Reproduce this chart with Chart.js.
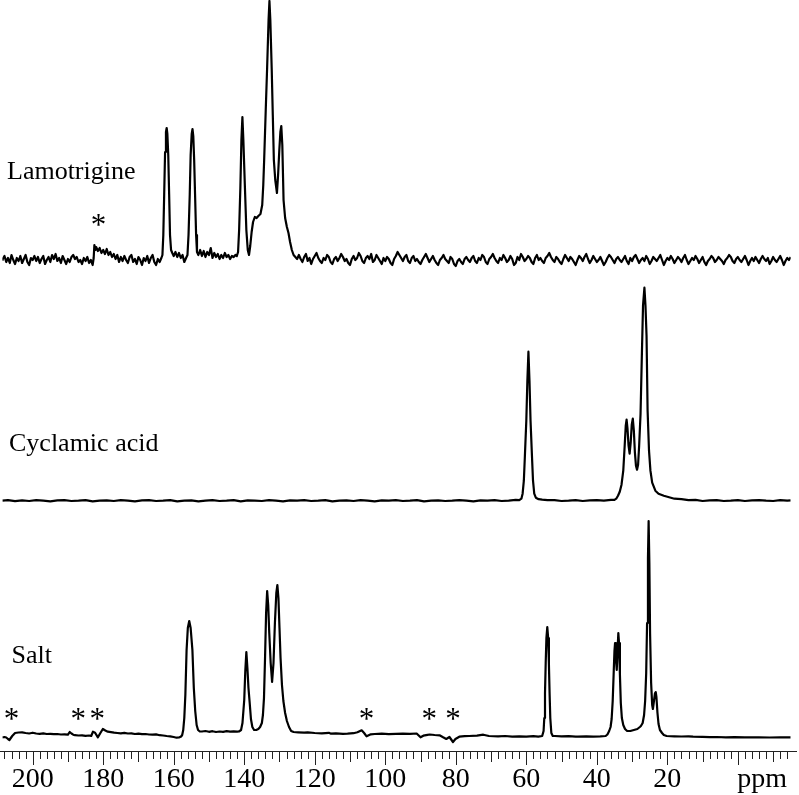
<!DOCTYPE html>
<html>
<head>
<meta charset="utf-8">
<script src="https://cdn.jsdelivr.net/npm/chart.js@4.4.1/dist/chart.umd.min.js"></script>
<style>
  html, body { margin: 0; padding: 0; background: #fff; }
</style>
</head>
<body>
<canvas id="nmr" width="799" height="795"></canvas>
<script>
// [ppm, intensity], intensity above the trace's own baseline
const lamotrigine = [
  [208.6,0],[208.5,1],[208,4],[207.5,-2],[207,2],[206.5,-3],[206,5],[205.5,0],[205,-4],[204.5,2],
  [204,-1],[203.5,4],[203,-3],[202.5,1],[202,5],[201.5,-2],[201,-5],[200.5,2],[200,0],[199.5,4],
  [199,-1],[198.5,3],[198,-3],[197.5,1],[197,4],[196.5,-4],[196,0],[195.5,3],[195,-2],[194.5,5],
  [194,1],[193.5,6],[193,-1],[192.5,2],[192,-3],[191.5,4],[191,0],[190.5,-4],[190,1],[189.5,-2],
  [189,3],[188.5,5],[188,1],[187.5,3],[187,-2],[186.5,0],[186,-4],[185.5,2],[185,-1],[184.5,3],
  [184,-3],[183.5,0],[183,-5],[182.7,2],[182.5,15],[182.2,10],[182,13],[181.5,9],[181,12],[180.5,7],
  [180,10],[179.5,6],[179,11],[178.5,5],[178,8],[177.5,3],[177,6],[176.5,1],[176,5],[175.5,-2],
  [175,3],[174.5,-1],[174,4],[173.5,0],[173,-3],[172.5,3],[172,5],[171.5,-2],[171,1],[170.5,-4],
  [170,3],[169.5,0],[169,-5],[168.5,2],[168,-1],[167.5,4],[167,-3],[166.5,2],[166,5],[165.5,-2],
  [165,-5],[164.5,1],[164,-2],
  [163.5,2],[163.2,5],[162.95,25],[162.7,66],[162.45,108],[162.2,128],[162.0,132],[161.8,126],
  [161.55,105],[161.3,66],[161.05,25],[160.75,10],[160.4,7],[160,4],[159.5,8],[159,3],
  [158.5,7],[158,2],[157.5,5],[157,-2],[156.5,2],
  [156.1,5],[155.8,25],[155.45,66],[155.2,105],[154.9,126],[154.67,131],[154.45,124],[154.2,100],
  [153.95,66],[153.65,25],[153.4,8],[153,5],[152.5,10],[152,4],[151.5,9],[151,3],[150.5,8],
  [150,5],[149.5,12],[149,2],[148.5,7],[148,3],[147.5,6],[147,1],[146.5,5],[146,2],[145.5,7],
  [145,3],[144.5,5],[144,1],[143.5,4],[143,3],[142.5,5],
  [142.1,4],[141.75,8],[141.45,30],[141.1,72],[140.8,120],[140.52,143],[140.25,120],[139.8,72],
  [139.4,30],[139.0,10],[138.65,5],[138.3,14],[137.9,28],[137.5,38],[137.0,43],[136.5,42],
  [136.0,44],[135.4,46],[134.9,55],[134.6,75],[134.35,100],[133.9,150],[133.5,193],[133.1,240],
  [132.85,259],[132.6,240],[132.2,190],[131.9,145],[131.6,100],[131.2,80],[130.72,67],[130.4,85],
  [130.05,110],[129.75,128],[129.49,134],[129.2,115],[128.85,60],[128.4,42],[127.9,33],
  [127.45,27],[127,18],[126.5,10],[126,5],[125.5,3],[125,1],
  [124.5,5],[124,1],[123.5,-2],[123,3],[122.5,6],[122,-1],[121.5,2],[121,-4],[120.5,1],[120,4],
  [119.5,7],[119,2],[118.5,-1],[118,-3],[117.5,2],[117,0],[116.5,5],[116,3],[115.5,-2],[115,-4],
  [114.5,1],[114,3],[113.5,-1],[113,2],[112.5,6],[112,3],[111.5,-1],[111,1],[110.5,-3],[110,-5],
  [109.5,1],[109,4],[108.5,0],[108,2],[107.5,7],[107,4],[106.5,-1],[106,-3],[105.5,2],[105,4],
  [104.5,1],[104,6],[103.5,-2],[103,0],[102.5,5],[102,2],[101.5,-1],[101,-4],[100.5,2],[100,-1],
  [99.5,3],[99,1],[98.5,-3],[98,-5],[97.5,1],[97,4],[96.5,8],[96,5],[95.5,2],[95,-1],
  [94.5,3],[94,5],[93.5,-1],[93,-3],[92.5,2],[92,4],[91.5,-1],[91,1],[90.5,-2],[90,-4],
  [89.5,0],[89,3],[88.5,6],[88,2],[87.5,-2],[87,1],[86.5,4],[86,0],[85.5,-3],[85,-5],
  [84.5,0],[84,2],[83.5,5],[83,1],[82.5,-1],[82,-3],[81.5,3],[81,1],[80.5,-4],[80,-6],
  [79.5,-1],[79,1],[78.5,-2],[78,-4],[77.5,1],[77,3],[76.5,0],[76,-2],[75.5,2],[75,4],
  [74.5,-1],[74,-3],[73.5,2],[73,0],[72.5,5],[72,3],[71.5,-2],[71,-4],[70.5,1],[70,3],
  [69.5,6],[69,2],[68.5,-1],[68,-3],[67.5,2],[67,0],[66.5,5],[66,2],[65.5,-2],[65,0],
  [64.5,4],[64,1],[63.5,-5],[63,-3],[62.5,3],[62,0],[61.5,6],[61,3],[60.5,-1],[60,1],
  [59.5,4],[59,2],[58.5,-2],[58,-4],[57.5,2],[57,5],[56.5,0],[56,2],[55.5,-1],[55,-3],
  [54.5,2],[54,4],[53.5,7],[53,3],[52.5,0],[52,-2],[51.5,3],[51,1],[50.5,-2],[50,-4],
  [49.5,1],[49,5],[48.5,2],[48,-1],[47.5,3],[47,1],[46.5,-2],[46,-5],[45.5,0],[45,4],
  [44.5,2],[44,-1],[43.5,3],[43,6],[42.5,1],[42,-3],[41.5,0],[41,4],[40.5,1],[40,-2],
  [39.5,0],[39,3],[38.5,-1],[38,-5],[37.5,-2],[37,2],[36.5,5],[36,3],[35.5,0],[35,-3],
  [34.5,1],[34,3],[33.5,0],[33,-2],[32.5,1],[32,4],[31.5,-1],[31,-4],[30.5,2],[30,-1],
  [29.5,3],[29,5],[28.5,1],[28,-3],[27.5,0],[27,2],[26.5,-1],[26,4],[25.5,1],[25,-4],
  [24.5,-1],[24,3],[23.5,1],[23,-1],[22.5,2],[22,5],[21.5,0],[21,-5],[20.5,-1],[20,2],
  [19.5,0],[19,4],[18.5,1],[18,-3],[17.5,0],[17,3],[16.5,1],[16,-2],[15.5,2],[15,5],
  [14.5,0],[14,-4],[13.5,-1],[13,2],[12.5,0],[12,4],[11.5,1],[11,-3],[10.5,0],[10,3],
  [9.5,-2],[9,-5],[8.5,-1],[8,1],[7.5,4],[7,2],[6.5,-2],[6,0],[5.5,3],[5,1],
  [4.5,-1],[4,-4],[3.5,0],[3,2],[2.5,5],[2,3],[1.5,-1],[1,-3],[0.5,1],[0,3],
  [-0.5,0],[-1,-2],[-1.5,1],[-2,4],[-2.5,0],[-3,-5],[-3.5,-1],[-4,2],[-4.5,-1],[-5,3],
  [-5.5,0],[-6,-3],[-6.5,1],[-7,4],[-7.5,1],[-8,-1],[-8.5,2],[-9,-4],[-9.5,-1],[-10,3],
  [-10.5,0],[-11,-2],[-11.5,1],[-12,4],[-12.5,0],[-13,-5],[-13.5,-1],[-14,2],[-14.5,0],[-15,3]
];

const cyclamicAcid = [
  [208.6,0],[207,0.6],[205,-0.5],[203,0.3],[201,-0.3],[199,0.6],[197,0],[195,-0.6],[193,0.3],[191,0.6],
  [189,-0.3],[187,0],[185,0.6],[183,-0.6],[181,0],[179,0.3],[177,-0.3],[175,0.6],[173,0],[171,-0.6],
  [169,0.3],[167,0.6],[165,-0.3],[163,0],[161,0.6],[159,-0.6],[157,0],[155,0.3],[153,-0.6],[151,0],
  [149,0.6],[147,-0.3],[145,0],[143,0.6],[141,-0.6],[139,0.3],[137,0],[135,-0.3],[133,0.6],[131,0],
  [129,-0.6],[127,0.3],[125,0],[123,0.6],[121,-0.3],[119,0],[117,0.6],[115,-0.6],[113,0],[111,0.3],
  [109,-0.3],[107,0.6],[105,0],[103,-0.6],[101,0.3],[99,0],[97,0.6],[95,-0.3],[93,0],[91,0.6],
  [89,-0.6],[87,0],[85,0.3],[83,-0.3],[81,0],[79,0.6],[77,0],[75,-0.6],[73,0.3],[71,0],
  [69,0.6],[67,-0.3],[65,0],[63,0.8],[62,0.5],
  [61.4,2],[61.05,7],[60.7,20],[60.4,45],[60.0,80],[59.7,120],[59.4,149],[59.1,120],[58.8,80],
  [58.4,45],[58.1,20],[57.75,7],[57.3,3],[56.5,1.5],[55.5,1],[54,0.5],[52,0.6],[50,-0.3],
  [48,0],[46,0.6],[44,-0.3],[42,0.3],[40,0.6],[38,0],[36,0.8],[35,0.8],[34.5,2],[34.0,5],
  [33.5,9],[33.0,16],[32.5,30],[32.1,55],[31.8,75],[31.56,81],[31.3,72],[31.0,55],[30.7,47],
  [30.4,58],[30.1,76],[29.8,82],[29.5,70],[29.2,48],[28.9,35],[28.6,31],[28.3,36],[28.0,55],
  [27.6,87],[27.2,150],[26.9,195],[26.5,213],[26.2,195],[25.9,165],[25.6,90],[25.2,50],
  [24.8,30],[24.3,18],[23.4,10],[22.5,7],[21,5],[19,3],[18,2],[16,1.5],[14,0.5],[12,0.8],
  [10,-0.3],[8,0.3],[6,0.6],[4,-0.3],[2,0],[0,0.6],[-2,-0.3],[-4,0.3],[-6,0.6],[-8,0],
  [-10,-0.3],[-12,0.6],[-14,0],[-15,0.3]
];

const salt = [
  [208.6,-4.5],[208,-4],[207.5,-4.5],[207,-6],[206.6,-7],[206.2,-5],[205.8,-3],[205,0],
  [204,0.5],[203,0.7],[202,0],[201,-0.5],[200,0.3],[199,-0.5],[198,-0.8],[197,-0.3],[196,-1],
  [195,-0.8],[194,-1.2],[193,-1],[192,-1.5],[191,-1.3],[190,-1.7],[189.5,1],[189,-0.5],
  [188.5,-1.7],[188,-2.2],[187,-2.5],[186,-2.3],[185,-2.8],[184,-2.5],[183.4,-3],[182.9,1.3],
  [182.3,0.3],[181.5,-4.3],[180.8,0],[180.1,4],[179.4,2.5],[178.7,1.3],[177.8,0.8],[176.9,0.3],
  [176,0],[175,-0.3],[174,0.2],[173,-0.5],[172,-0.3],[171,-1],[170,-0.6],[169,-1.2],[168,-1],
  [167,-1.5],[166,-1.7],[165,-1.4],[164,-2.2],[163,-2.5],[162,-3],[161,-3.3],[160,-4],
  [159.2,-4.7],[158.5,-4.5],[157.9,-3.5],
  [157.6,-2],[157.3,3],[157.0,15],[156.7,38],[156.35,83],[156.0,105],[155.6,112],[155.2,105],
  [154.7,83],[154.3,45],[153.9,22],[153.5,8],[153.1,3],[152.6,1.5],[152,1.5],[151,2],[150,1.2],
  [149,1.8],[148,1],[147,1.5],[146,1.2],[145,1.8],[144,1.3],[143,1.6],[142,1.4],[141.5,1.5],
  [140.9,3],[140.5,10],[140.0,33],[139.7,62],[139.4,81],[139.1,65],[138.8,45],[138.45,30],
  [138.1,14],[137.7,6],[137.2,3],[136.6,3],[136.0,4],[135.5,6],[135.0,10],[134.7,18],[134.4,35],
  [134.1,75],[133.8,120],[133.5,142],[133.2,128],[132.9,100],[132.5,70],[132.1,51],[131.7,70],
  [131.3,110],[130.9,140],[130.6,148],[130.3,135],[130.0,105],[129.7,75],[129.3,48],[128.9,32],
  [128.4,20],[127.9,12],[127.3,6],[126.7,2],[126,1],[124.7,0.7],[123,0.3],[122,0.6],[120,0],
  [118,-0.3],[116,0.2],[115.4,-0.7],[114,-0.4],[112,-0.8],[110.7,-0.7],[109,-0.2],[107.9,0.7],
  [106.7,2.7],[106,0],[105.3,-3.3],[104.1,-1.3],[103,-1],[101,-0.7],[99,-1.2],[97,-0.8],
  [95,-0.6],[93,-0.9],[91.1,-0.5],[90,-4.3],[89.2,-2.7],[88,-1.8],[87.4,-1.5],[86,-2],
  [84.6,-2.3],[83.6,-4.3],[82.7,-6],[81.8,-4],[80.8,-9],[80.1,-6],[79,-3.7],[77.5,-3.2],
  [76.2,-3],[74,-2.6],[72.2,-1.7],[70.6,-3],[68,-3.3],[66,-3],[64,-3.7],[62,-3.3],[60,-3.6],
  [58,-3.2],[56.6,-3.7],[55.5,-3],[55.1,2],[54.9,15],[54.7,40],[54.5,70],[54.3,95],[54.05,106],
  [53.8,95],[53.6,70],[53.4,40],[53.2,15],[52.9,0],[52.5,-3],[51.9,-3],[50,-3.4],[48,-3.1],
  [46,-3.6],[45.4,-3.7],[43,-3.3],[41,-3.6],[39,-3.4],[37.5,-3],[37,-1.5],[36.5,2],[36.1,6],
  [35.8,14],[35.5,32],[35.2,62],[35.0,82],[34.83,90],[34.6,75],[34.35,63],[34.1,85],[33.9,100],
  [33.7,90],[33.45,58],[33.2,30],[32.9,15],[32.5,8],[32.0,4],[31.4,2],[30.5,2],[29.5,3],
  [28.5,4],[27.8,6],[27.5,7],[27.0,10],[26.6,18],[26.3,32],[26.0,60],[25.75,110],[25.5,175],
  [25.31,212],[25.1,170],[24.9,100],[24.6,50],[24.3,28],[24.1,24],[23.8,32],[23.5,40],[23.3,41],
  [23.1,36],[22.8,20],[22.5,9],[22.1,3],[21.5,0],[21,-2],[20.2,-3],[18,-3.3],[16,-3.5],
  [14,-3.4],[12.7,-3.7],[10,-3.9],[8,-4.1],[6,-4],[3.4,-4.3],[1,-4.2],[-2,-4.4],[-5.9,-4.3],
  [-9,-4.5],[-12,-4.3],[-15,-4.3]
];

const traceNames = ['Lamotrigine', 'Cyclamic acid', 'Salt'];
const traceOffsets = [491, 250.3, 18];   // stacks the three spectra

const tickLabels = [200, 180, 160, 140, 120, 100, 80, 60, 40, 20];
const unitLabel = 'ppm';
const unitPos = -6.9;

// spinning sidebands marked with *
const lamStars = [181.3];
const saltStars = [206, 187.1, 181.7, 105.3, 87.5, 80.8];

const serif = "'Liberation Serif', 'Times New Roman', serif";

// axis ticks, trace names and asterisks
const overlay = {
  id: 'overlay',
  afterDraw(chart) {
    const ctx = chart.ctx;
    const x = chart.scales.x;
    const axisY = chart.chartArea.bottom;
    ctx.save();
    ctx.strokeStyle = '#222';
    ctx.lineWidth = 1;
    ctx.beginPath();
    ctx.moveTo(0, axisY + 0.5);
    ctx.lineTo(797, axisY + 0.5);
    for (let v = 208; v >= -14; v -= 2) {
      const px = Math.round(x.getPixelForValue(v)) + 0.5;
      let len = 8;
      if (v % 20 === 0) len = 14;
      else if (v % 10 === 0) len = 11;
      ctx.moveTo(px, axisY);
      ctx.lineTo(px, axisY + len);
    }
    ctx.stroke();

    ctx.fillStyle = '#000';
    ctx.font = '26px ' + serif;
    ctx.textAlign = 'left';
    ctx.textBaseline = 'alphabetic';
    ctx.fillText(traceNames[0], 7, 179);
    ctx.fillText(traceNames[1], 9, 451);
    ctx.fillText(traceNames[2], 11.5, 663);

    ctx.font = '31px ' + serif;
    ctx.textAlign = 'center';
    lamStars.forEach(p => ctx.fillText('*', x.getPixelForValue(p), 235));
    saltStars.forEach(p => ctx.fillText('*', x.getPixelForValue(p), 729));
    ctx.restore();
  }
};

function toPoints(arr, off) {
  return arr.map(d => ({ x: d[0], y: d[1] + off }));
}

const traces = [lamotrigine, cyclamicAcid, salt];

const cfg = {
  type: 'line',
  data: {
    datasets: traces.map((t, i) => ({
      label: traceNames[i],
      data: toPoints(t, traceOffsets[i]),
      borderColor: '#000',
      borderWidth: 2.2,
      borderJoinStyle: 'round',
      pointRadius: 0,
      fill: false,
      tension: 0
    }))
  },
  options: {
    responsive: false,
    animation: false,
    layout: { padding: 0 },
    plugins: {
      legend: { display: false },
      tooltip: { enabled: false }
    },
    scales: {
      x: {
        type: 'linear',
        reverse: true,
        min: -14.97,
        max: 208.59,
        grid: { display: false, drawTicks: false },
        border: { display: false },
        afterBuildTicks: s => {
          s.ticks = tickLabels.map(v => ({ value: v })).concat([{ value: unitPos }]);
        },
        afterFit: s => { s.height = 44; },
        ticks: {
          autoSkip: false,
          maxRotation: 0,
          padding: 12,
          color: '#000',
          font: { family: serif, size: 28 },
          callback: v => (v === unitPos ? unitLabel : v)
        }
      },
      y: { display: false, min: 0, max: 751 }
    }
  },
  plugins: [overlay]
};

const nmrChart = new Chart(document.getElementById('nmr').getContext('2d'), cfg);
</script>
</body>
</html>
